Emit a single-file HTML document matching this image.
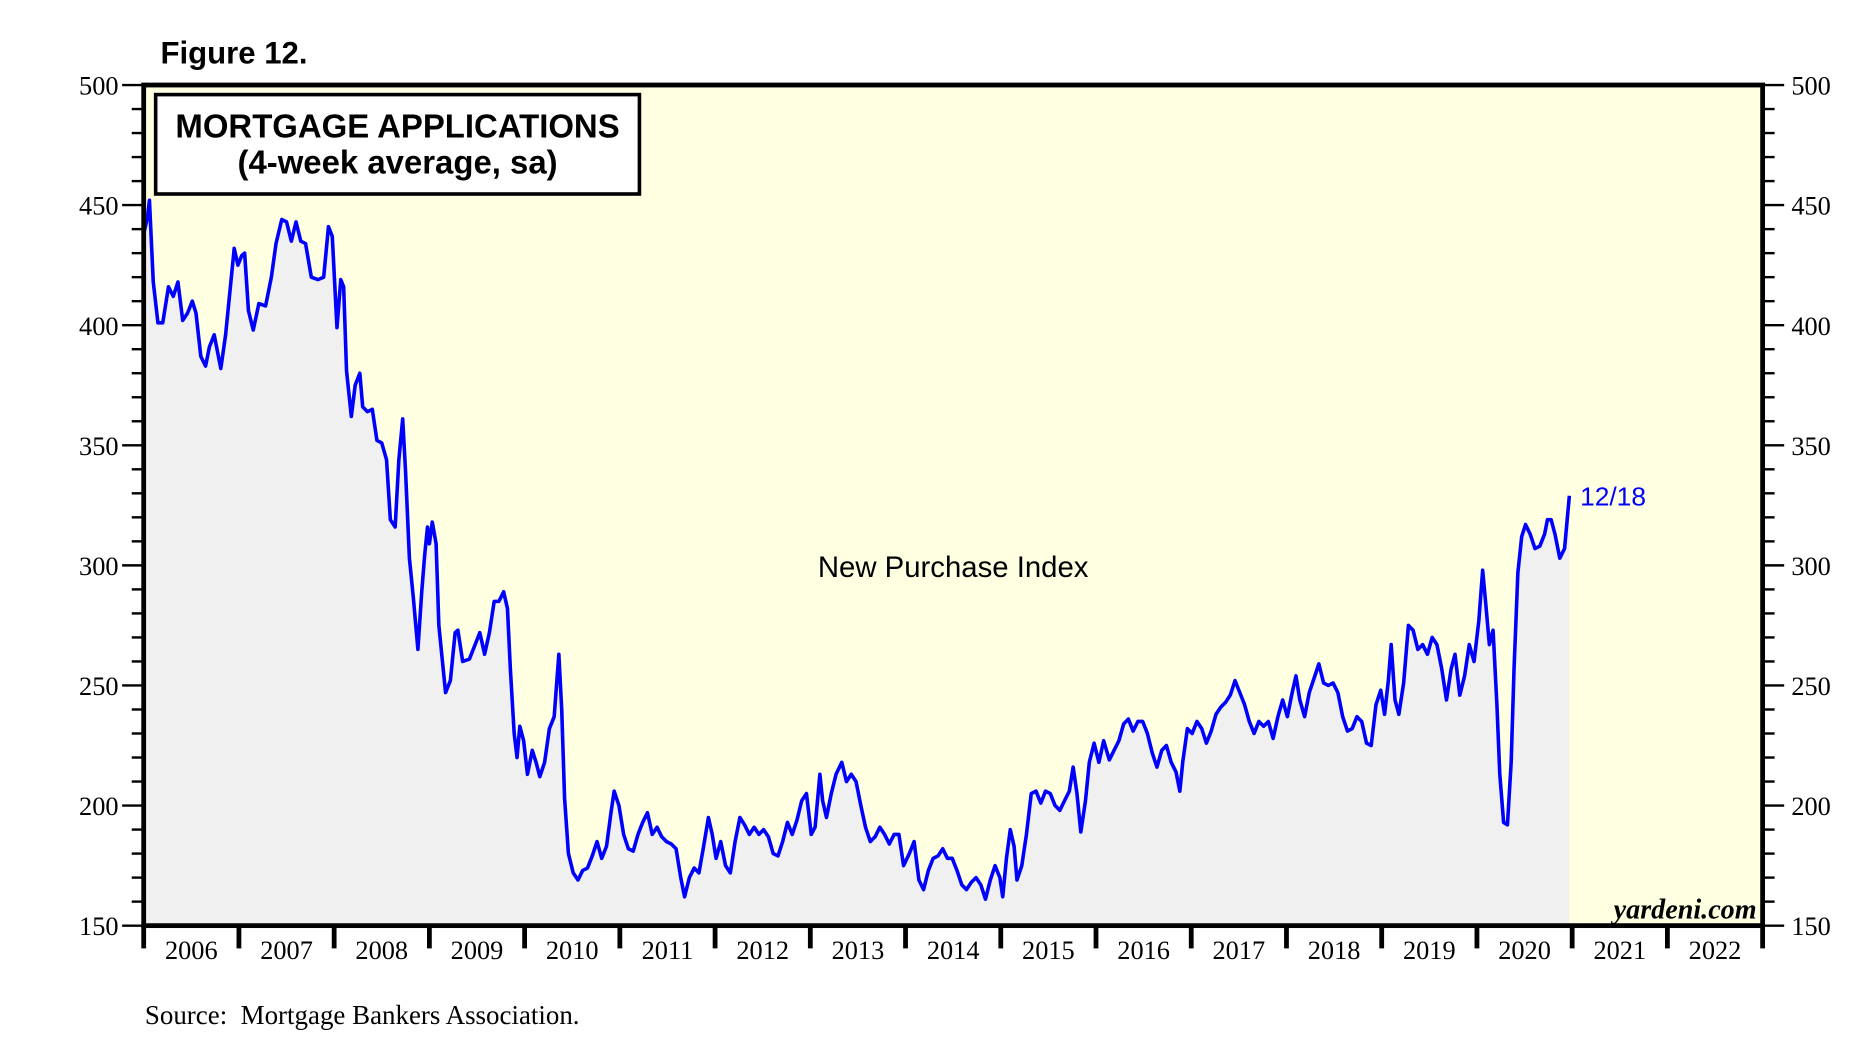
<!DOCTYPE html>
<html><head><meta charset="utf-8">
<style>
html,body{margin:0;padding:0;background:#fff;}
svg{display:block;}
.tk{font-family:"Liberation Serif",serif;font-size:22px;fill:#000;}
</style></head>
<body>
<svg id="chart" width="1868" height="1060" viewBox="0 0 1560 885.2" preserveAspectRatio="none" xmlns="http://www.w3.org/2000/svg">
<text x="134" y="53" font-family="Liberation Sans, sans-serif" font-weight="bold" font-size="26">Figure 12.</text>
<rect x="120" y="71" width="1352" height="702" fill="#FFFFE1"/>
<g id="fillg"></g>
<g id="lineg"></g>
<g id="axes"></g>
<rect x="120" y="71" width="1352" height="702" fill="none" stroke="#000" stroke-width="4"/>
<rect x="130" y="79" width="404" height="83" fill="#fff" stroke="#000" stroke-width="3"/>
<text x="332" y="115" text-anchor="middle" font-family="Liberation Sans, sans-serif" font-weight="bold" font-size="27.5">MORTGAGE APPLICATIONS</text>
<text x="332" y="145" text-anchor="middle" font-family="Liberation Sans, sans-serif" font-weight="bold" font-size="27.5">(4-week average, sa)</text>
<text x="796" y="482" text-anchor="middle" font-family="Liberation Sans, sans-serif" font-size="24.5">New Purchase Index</text>
<text id="lastlbl" x="1326" y="423" font-family="Liberation Sans, sans-serif" font-size="22" fill="#0000FF">12/18</text>
<text x="1467" y="767" text-anchor="end" font-family="Liberation Serif, serif" font-style="italic" font-weight="bold" font-size="23.5">yardeni.com</text>
<text x="121" y="855" font-family="Liberation Serif, serif" font-size="22.5">Source:&#160; Mortgage Bankers Association.</text>
</svg>
<script>
const dates=[2006.00,2006.04,2006.06,2006.10,2006.15,2006.20,2006.26,2006.31,2006.36,2006.41,2006.46,2006.51,2006.55,2006.60,2006.65,2006.69,2006.74,2006.78,2006.81,2006.86,2006.91,2006.95,2006.99,2007.03,2007.06,2007.10,2007.15,2007.21,2007.28,2007.34,2007.39,2007.45,2007.50,2007.55,2007.60,2007.65,2007.70,2007.76,2007.83,2007.89,2007.94,2007.98,2008.03,2008.07,2008.10,2008.13,2008.18,2008.22,2008.27,2008.30,2008.35,2008.40,2008.45,2008.50,2008.55,2008.59,2008.64,2008.68,2008.72,2008.75,2008.79,2008.83,2008.88,2008.92,2008.95,2008.98,2009.00,2009.03,2009.07,2009.10,2009.17,2009.22,2009.27,2009.30,2009.35,2009.42,2009.48,2009.53,2009.58,2009.63,2009.68,2009.73,2009.78,2009.82,2009.85,2009.89,2009.92,2009.95,2009.99,2010.03,2010.08,2010.12,2010.16,2010.21,2010.26,2010.31,2010.36,2010.39,2010.42,2010.46,2010.51,2010.56,2010.61,2010.66,2010.71,2010.76,2010.81,2010.86,2010.91,2010.94,2010.99,2011.04,2011.09,2011.14,2011.19,2011.24,2011.29,2011.34,2011.39,2011.44,2011.49,2011.54,2011.59,2011.64,2011.68,2011.73,2011.78,2011.83,2011.88,2011.93,2011.97,2012.01,2012.06,2012.11,2012.16,2012.21,2012.26,2012.31,2012.36,2012.41,2012.46,2012.51,2012.56,2012.61,2012.66,2012.71,2012.76,2012.81,2012.86,2012.91,2012.96,2013.01,2013.05,2013.10,2013.13,2013.17,2013.22,2013.27,2013.33,2013.38,2013.43,2013.48,2013.53,2013.58,2013.63,2013.68,2013.73,2013.78,2013.83,2013.88,2013.93,2013.98,2014.04,2014.09,2014.14,2014.19,2014.24,2014.29,2014.34,2014.39,2014.44,2014.49,2014.54,2014.59,2014.64,2014.69,2014.74,2014.79,2014.84,2014.89,2014.94,2014.99,2015.02,2015.06,2015.10,2015.14,2015.17,2015.22,2015.27,2015.32,2015.37,2015.42,2015.47,2015.52,2015.57,2015.62,2015.67,2015.72,2015.76,2015.80,2015.84,2015.89,2015.93,2015.98,2016.03,2016.08,2016.14,2016.19,2016.24,2016.29,2016.34,2016.39,2016.44,2016.49,2016.54,2016.59,2016.64,2016.69,2016.74,2016.79,2016.84,2016.88,2016.91,2016.96,2017.01,2017.06,2017.11,2017.16,2017.21,2017.26,2017.31,2017.36,2017.41,2017.46,2017.51,2017.56,2017.61,2017.66,2017.71,2017.76,2017.81,2017.86,2017.91,2017.96,2018.01,2018.06,2018.10,2018.14,2018.19,2018.24,2018.29,2018.34,2018.39,2018.44,2018.49,2018.54,2018.59,2018.64,2018.69,2018.74,2018.79,2018.84,2018.89,2018.94,2018.99,2019.03,2019.07,2019.10,2019.14,2019.18,2019.23,2019.28,2019.33,2019.38,2019.43,2019.48,2019.53,2019.58,2019.63,2019.68,2019.73,2019.77,2019.82,2019.87,2019.92,2019.97,2020.02,2020.06,2020.09,2020.13,2020.17,2020.21,2020.24,2020.28,2020.32,2020.36,2020.39,2020.43,2020.47,2020.51,2020.56,2020.61,2020.66,2020.71,2020.74,2020.78,2020.82,2020.87,2020.92,2020.97];
const values=[438,445,452,418,401,401,416,412,418,402,405,410,405,387,383,391,396,388,382,396,416,432,425,429,430,406,398,409,408,420,434,444,443,435,443,435,434,420,419,420,441,437,399,419,416,381,362,375,380,366,364,365,352,351,344,319,316,344,361,339,303,287,265,289,304,316,309,318,309,275,247,252,272,273,260,261,267,272,263,272,285,285,289,282,257,230,220,233,227,213,223,218,212,218,232,237,263,240,203,180,172,169,173,174,179,185,178,183,198,206,200,188,182,181,188,193,197,188,191,187,185,184,182,170,162,170,174,172,183,195,188,178,185,175,172,185,195,192,188,191,188,190,187,180,179,185,193,188,194,202,205,188,191,213,202,195,205,213,218,210,213,210,200,191,185,187,191,188,184,188,188,175,180,185,169,165,173,178,179,182,178,178,173,167,165,168,170,167,161,169,175,170,162,178,190,183,169,175,188,205,206,201,206,205,200,198,202,206,216,205,189,202,218,226,218,227,219,223,227,234,236,231,235,235,230,222,216,223,225,218,214,206,218,232,230,235,232,226,231,238,241,243,246,252,247,242,235,230,235,233,235,228,237,244,237,247,254,244,237,247,253,259,251,250,251,247,237,231,232,237,235,226,225,242,248,238,252,267,244,238,251,275,273,265,267,263,270,267,257,244,257,263,246,254,267,260,277,298,285,267,273,242,213,193,192,218,257,297,312,317,313,307,308,313,319,319,313,303,307,329];
const yTicks=[150,200,250,300,350,400,450,500];
const xYears=[2006,2007,2008,2009,2010,2011,2012,2013,2014,2015,2016,2017,2018,2019,2020,2021,2022];

const NS='http://www.w3.org/2000/svg';
const L=120,R=1472,T=71,B=773,X0=2006,X1=2023,Y0=150,Y1=500;
const xs=d=>L+(d-X0)/(X1-X0)*(R-L);
const ys=v=>B-(v-Y0)/(Y1-Y0)*(B-T);
function mk(tag,attrs,parent){const e=document.createElementNS(NS,tag);for(const k in attrs)e.setAttribute(k,attrs[k]);parent.appendChild(e);return e;}

const pts=dates.map((d,i)=>xs(d).toFixed(1)+','+ys(values[i]).toFixed(1));
const fillP=mk('polygon',{points:xs(dates[0])+','+B+' '+pts.join(' ')+' '+xs(dates[dates.length-1])+','+B,fill:'#F0F0F0'},document.getElementById('fillg'));


const line=mk('polyline',{points:pts.join(' '),fill:'none',stroke:'#0000FF','stroke-width':3,'stroke-linejoin':'round'},document.getElementById('lineg'));


const ll=document.getElementById('lastlbl');
ll.setAttribute('x', xs(dates[dates.length-1])+9);
ll.setAttribute('y', ys(values[values.length-1])+8);

const ax=document.getElementById('axes');
for(let v=Y0;v<=Y1;v+=10){
  const y=ys(v), major=(v%50===0);
  const tl=mk('line',{x1:L-(major?18:10),x2:L,y1:y,y2:y,stroke:'#000','stroke-width':2},ax);
  
  
  const tr=mk('line',{x1:R,x2:R+(major?18:10),y1:y,y2:y,stroke:'#000','stroke-width':2},ax);
  
  
}
yTicks.forEach(v=>{
  const a=mk('text',{x:L-21,y:ys(v)+8,'text-anchor':'end','class':'tk'},ax);a.textContent=v;
  
  
  const b=mk('text',{x:R+24,y:ys(v)+8,'class':'tk'},ax);b.textContent=v;
  
  
});
for(let yr=X0;yr<=X1;yr++){
  const t=mk('line',{x1:xs(yr),x2:xs(yr),y1:B,y2:B+19,stroke:'#000','stroke-width':4},ax);
  
  
}
xYears.forEach(yr=>{
  const t=mk('text',{x:xs(yr+0.5),y:B+28,'text-anchor':'middle','class':'tk'},ax);t.textContent=yr;
  
  
});
</script>
</body></html>
